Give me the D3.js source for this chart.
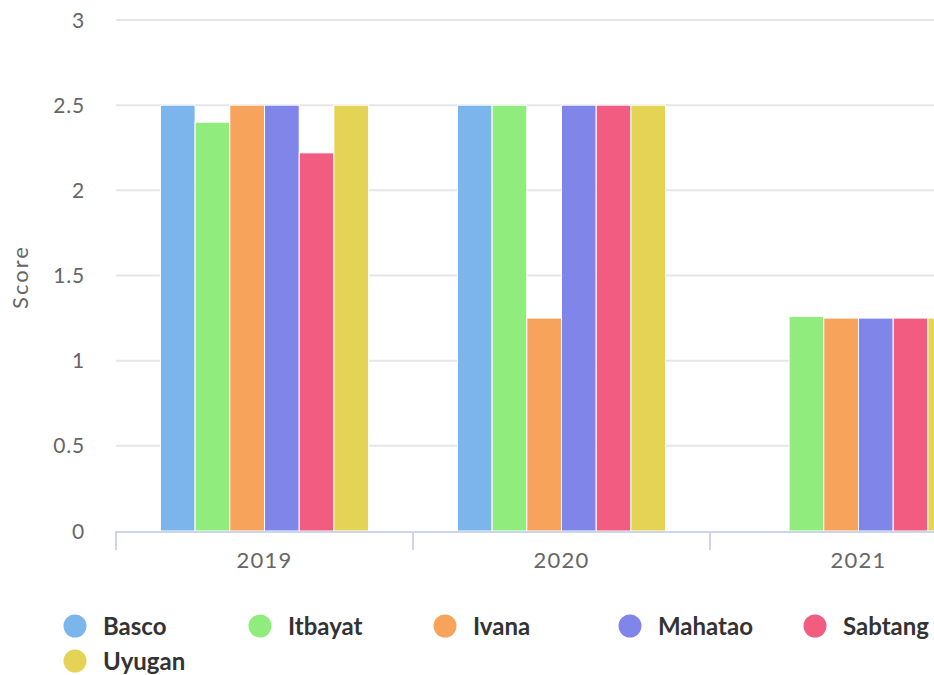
<!DOCTYPE html>
<html>
<head>
<meta charset="utf-8">
<script src="https://cdn.jsdelivr.net/npm/d3@7"></script>
<style>
  body { margin: 0; background: #fff; overflow: hidden; }
  svg { display: block; font-family: Lato, "Open Sans", sans-serif; }
</style>
</head>
<body>
<div id="chart"></div>
<script>
var width = 934;
var height = 675;

var years = ["2019", "2020", "2021"];
var towns = ["Basco", "Itbayat", "Ivana", "Mahatao", "Sabtang", "Uyugan"];
var colors = ["#7cb5ec", "#90ed7d", "#f7a35c", "#8085e9", "#f15c80", "#e4d354"];
// one array per town, values for 2019, 2020, 2021 (null = no bar)
var basco = [2.5, 2.5, null];
var itbayat = [2.4, 2.5, 1.26];
var ivana = [2.5, 1.25, 1.25];
var mahatao = [2.5, 2.5, 1.25];
var sabtang = [2.22, 2.5, 1.25];
var uyugan = [2.5, 2.5, 1.25];
var yTicks = [0, 0.5, 1, 1.5, 2, 2.5, 3];

var series = [basco, itbayat, ivana, mahatao, sabtang, uyugan];

var svg = d3.select("#chart").append("svg")
  .attr("width", width)
  .attr("height", height);

var plotLeft = 116, plotTop = 20, plotBottom = 531;
var bandW = 297;

var x = d3.scaleBand()
  .domain(years)
  .range([plotLeft, plotLeft + bandW * years.length])
  .paddingInner(0)
  .paddingOuter(0);

var xInner = d3.scaleBand()
  .domain(towns)
  .range([0, x.bandwidth()])
  .paddingOuter(1.28)
  .paddingInner(0);

var y = d3.scaleLinear().domain([0, 3]).range([plotBottom, plotTop]);

// gridlines
svg.append("g").selectAll("line")
  .data(yTicks.filter(function (d) { return d > 0; }))
  .join("line")
  .attr("x1", plotLeft)
  .attr("x2", width)
  .attr("y1", function (d) { return y(d); })
  .attr("y2", function (d) { return y(d); })
  .attr("stroke", "#e6e6e6")
  .attr("stroke-width", 2);

// y labels
svg.append("g").selectAll("text")
  .data(yTicks)
  .join("text")
  .attr("x", 85)
  .attr("y", function (d) { return y(d) + 7.5; })
  .attr("text-anchor", "end")
  .attr("fill", "#666")
  .attr("font-size", 21)
  .attr("letter-spacing", 0.8)
  .text(function (d) { return d; });

svg.append("text")
  .attr("transform", "translate(28," + 277 + ") rotate(-90)")
  .attr("text-anchor", "middle")
  .attr("fill", "#666")
  .attr("font-size", 22)
  .attr("letter-spacing", 2)
  .text("Score");

// bars
var flat = [];
series.forEach(function (s, si) {
  s.forEach(function (v, yi) {
    if (v != null) flat.push({ town: towns[si], year: years[yi], value: v, color: colors[si] });
  });
});

svg.append("g").selectAll("rect")
  .data(flat)
  .join("rect")
  .attr("x", function (d) { return x(d.year) + xInner(d.town); })
  .attr("y", function (d) { return y(d.value); })
  .attr("width", xInner.bandwidth())
  .attr("height", function (d) { return plotBottom - y(d.value); })
  .attr("fill", function (d) { return d.color; })
  .attr("stroke", "#fff")
  .attr("stroke-width", 1);

// x axis
var xAxis = svg.append("g");
xAxis.append("line")
  .attr("x1", plotLeft).attr("x2", width)
  .attr("y1", plotBottom + 1).attr("y2", plotBottom + 1)
  .attr("stroke", "#ccd6eb").attr("stroke-width", 2);
xAxis.selectAll(".tick")
  .data(years.concat(["end"]))
  .join("line")
  .attr("class", "tick")
  .attr("x1", function (d, i) { return plotLeft + i * bandW; })
  .attr("x2", function (d, i) { return plotLeft + i * bandW; })
  .attr("y1", plotBottom)
  .attr("y2", plotBottom + 19)
  .attr("stroke", "#ccd6eb").attr("stroke-width", 2);
xAxis.selectAll("text")
  .data(years)
  .join("text")
  .attr("x", function (d) { return x(d) + x.bandwidth() / 2; })
  .attr("y", 568)
  .attr("text-anchor", "middle")
  .attr("fill", "#666")
  .attr("font-size", 22)
  .attr("letter-spacing", 1.3)
  .text(function (d) { return d; });

// legend
var legend = svg.append("g").selectAll("g")
  .data(towns)
  .join("g")
  .attr("transform", function (d, i) {
    return "translate(" + (75 + (i % 5) * 185) + "," + (626 + Math.floor(i / 5) * 35) + ")";
  });
legend.append("circle")
  .attr("r", 11.5)
  .attr("fill", function (d, i) { return colors[i]; });
legend.append("text")
  .attr("x", 28)
  .attr("y", 8.5)
  .attr("fill", "#333")
  .attr("font-size", 24)
  .attr("font-weight", "bold")
  .text(function (d) { return d; });
</script>
</body>
</html>
